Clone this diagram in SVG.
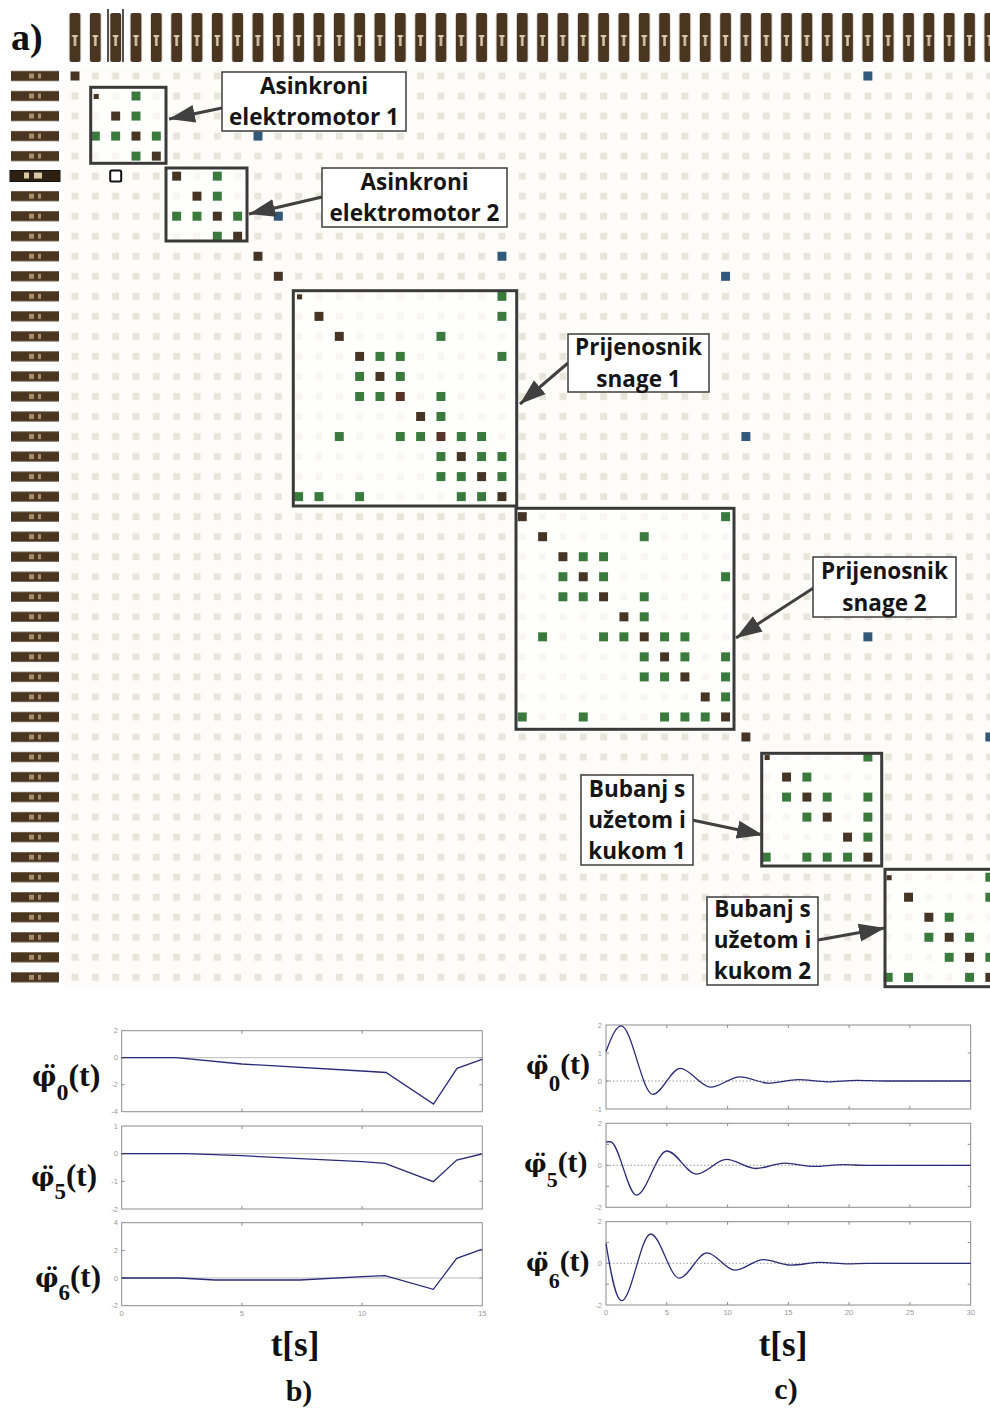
<svg xmlns="http://www.w3.org/2000/svg" xmlns:xlink="http://www.w3.org/1999/xlink" width="990" height="1414" viewBox="0 0 990 1414">
<style>
.cb{fill:#fff;stroke:#3d3d3d;stroke-width:1.5}
.ct{font-family:"Open Sans","Noto Sans",sans-serif;font-weight:700;font-size:22.5px;fill:#151515;text-anchor:middle}
.blk{fill:none;stroke:#3a3a3a;stroke-width:3}
.blkfill{fill:#fff;opacity:0.65}
.arr{stroke:#404040;stroke-width:3;fill:none;marker-end:url(#ah)}
.ax{fill:none;stroke:#8c8c8c;stroke-width:1}
.z{stroke:#a8a8a8;stroke-width:0.8}
.zd{stroke:#8c8c8c;stroke-width:0.9;stroke-dasharray:1.5 2}
.cv{fill:none;stroke:#2b2b7a;stroke-width:1.3}
.tkr{font-family:"Liberation Sans",sans-serif;font-size:7.5px;fill:#9a9a9a;text-anchor:end}
.tkm{font-family:"Liberation Sans",sans-serif;font-size:7.5px;fill:#9a9a9a;text-anchor:middle}
.lab{font-family:"Liberation Serif",serif;font-weight:bold;fill:#111}
.phi{font-family:"DejaVu Serif",serif;font-weight:bold}
</style>
<defs>
<pattern id="cells" patternUnits="userSpaceOnUse" x="64.835" y="65.985" width="20.33" height="20.03">
<rect x="6.665" y="6.515" width="7" height="7" fill="#e8e5dc"/>
</pattern>
<pattern id="hdr" patternUnits="userSpaceOnUse" x="64.835" y="0" width="20.33" height="80">
<rect x="4.665" y="13" width="11" height="49" rx="2" fill="#4a3520"/>
<rect x="8.9" y="35" width="2.5" height="11" fill="#d8c8ac"/>
<rect x="7.4" y="35" width="5.5" height="2" fill="#d8c8ac"/>
</pattern>
<pattern id="rlab" patternUnits="userSpaceOnUse" x="0" y="65.985" width="70" height="20.03">
<rect x="11" y="5" width="48" height="10" fill="#4a3520"/>
<rect x="29" y="7.5" width="5" height="5" fill="#a88e6a"/>
<rect x="38" y="7.5" width="3" height="5" fill="#a88e6a"/>
</pattern>
<rect id="sg" x="-0.22" y="-0.225" width="0.44" height="0.45" fill="#3a7b3d"/>
<rect id="sb" x="-0.22" y="-0.225" width="0.44" height="0.45" fill="#463524"/>
<rect id="sr" x="-0.22" y="-0.225" width="0.44" height="0.45" fill="#5a3327"/>
<rect id="su" x="-0.22" y="-0.225" width="0.44" height="0.45" fill="#33597a"/>
<rect id="ss" x="-0.08" y="-0.1" width="0.25" height="0.25" fill="#463524"/>
<marker id="ah" markerUnits="userSpaceOnUse" markerWidth="26" markerHeight="20" viewBox="0 0 26 20" refX="26" refY="10" orient="auto">
<path d="M0,1 L26,10 L0,19 Z" fill="#404040"/>
</marker>
</defs>

<rect x="0" y="0" width="990" height="1414" fill="#ffffff"/>

<g id="panel-a">
<text class="lab" x="11" y="50" font-size="38">a)</text>
<g id="column-headers">
<rect x="64" y="0" width="926" height="70" fill="url(#hdr)"/>
<path d="M108,9 V62 M123,9 V62" stroke="#1a1a1a" stroke-width="1.5"/>
</g>
<g id="row-headers">
<rect x="0" y="66" width="62" height="921.4" fill="url(#rlab)"/>
<rect x="10" y="170.5" width="50" height="11" fill="#2e2013" stroke="#111" stroke-width="1"/>
<rect x="24" y="172.5" width="5" height="6" fill="#d8c8a8"/>
<rect x="34" y="172.5" width="8" height="6" fill="#d8c8a8"/>
</g>
<g id="grid">
<rect x="64" y="66" width="926" height="921.4" fill="#fdfcf8"/>
<rect x="64" y="66" width="926" height="921.4" fill="url(#cells)"/>
</g>
<g id="block-fills">
<rect class="blkfill" x="90.7" y="87.3" width="75.3" height="76"/>
<rect class="blkfill" x="166" y="168" width="81" height="73"/>
<rect class="blkfill" x="293.3" y="290.7" width="223.4" height="215.3"/>
<rect class="blkfill" x="516" y="508.3" width="218" height="221"/>
<rect class="blkfill" x="761.7" y="753.3" width="120" height="112.7"/>
<rect class="blkfill" x="885" y="869.3" width="110" height="117.4"/>
</g>
<g id="entries" transform="translate(75,76) scale(20.33,20.03)">
<use href="#sb" x="0" y="0"/><use href="#su" x="39" y="0"/>
<use href="#ss" x="1" y="1"/><use href="#sg" x="3" y="1"/>
<use href="#sb" x="2" y="2"/><use href="#sg" x="3" y="2"/>
<use href="#sg" x="1" y="3"/><use href="#sg" x="2" y="3"/><use href="#sb" x="3" y="3"/><use href="#sg" x="4" y="3"/><use href="#su" x="9" y="3"/>
<use href="#sg" x="3" y="4"/><use href="#sb" x="4" y="4"/>
<use href="#sb" x="5" y="5"/><use href="#sg" x="7" y="5"/>
<use href="#sb" x="6" y="6"/><use href="#sg" x="7" y="6"/>
<use href="#sg" x="5" y="7"/><use href="#sg" x="6" y="7"/><use href="#sb" x="7" y="7"/><use href="#sg" x="8" y="7"/><use href="#su" x="10" y="7"/>
<use href="#sg" x="7" y="8"/><use href="#sb" x="8" y="8"/>
<use href="#sb" x="9" y="9"/><use href="#su" x="21" y="9"/>
<use href="#sb" x="10" y="10"/><use href="#su" x="32" y="10"/>
<use href="#ss" x="11" y="11"/><use href="#sg" x="21" y="11"/>
<use href="#sb" x="12" y="12"/><use href="#sg" x="21" y="12"/>
<use href="#sb" x="13" y="13"/><use href="#sg" x="18" y="13"/>
<use href="#sb" x="14" y="14"/><use href="#sg" x="15" y="14"/><use href="#sg" x="16" y="14"/><use href="#sg" x="21" y="14"/>
<use href="#sg" x="14" y="15"/><use href="#sb" x="15" y="15"/><use href="#sg" x="16" y="15"/>
<use href="#sg" x="14" y="16"/><use href="#sg" x="15" y="16"/><use href="#sr" x="16" y="16"/><use href="#sg" x="18" y="16"/>
<use href="#sb" x="17" y="17"/><use href="#sg" x="18" y="17"/>
<use href="#sg" x="13" y="18"/><use href="#sg" x="16" y="18"/><use href="#sg" x="17" y="18"/><use href="#sr" x="18" y="18"/><use href="#sg" x="19" y="18"/><use href="#sg" x="20" y="18"/><use href="#su" x="33" y="18"/>
<use href="#sg" x="18" y="19"/><use href="#sb" x="19" y="19"/><use href="#sg" x="20" y="19"/><use href="#sg" x="21" y="19"/>
<use href="#sg" x="18" y="20"/><use href="#sg" x="19" y="20"/><use href="#sb" x="20" y="20"/><use href="#sg" x="21" y="20"/>
<use href="#sg" x="11" y="21"/><use href="#sg" x="12" y="21"/><use href="#sg" x="14" y="21"/><use href="#sg" x="19" y="21"/><use href="#sg" x="20" y="21"/><use href="#sb" x="21" y="21"/>
<use href="#sb" x="22" y="22"/><use href="#sg" x="32" y="22"/>
<use href="#sb" x="23" y="23"/><use href="#sg" x="28" y="23"/>
<use href="#sb" x="24" y="24"/><use href="#sg" x="25" y="24"/><use href="#sg" x="26" y="24"/>
<use href="#sg" x="24" y="25"/><use href="#sb" x="25" y="25"/><use href="#sg" x="26" y="25"/><use href="#sg" x="32" y="25"/>
<use href="#sg" x="24" y="26"/><use href="#sg" x="25" y="26"/><use href="#sb" x="26" y="26"/><use href="#sg" x="28" y="26"/>
<use href="#sb" x="27" y="27"/><use href="#sg" x="28" y="27"/>
<use href="#sg" x="23" y="28"/><use href="#sg" x="26" y="28"/><use href="#sg" x="27" y="28"/><use href="#sb" x="28" y="28"/><use href="#sg" x="29" y="28"/><use href="#sg" x="30" y="28"/><use href="#su" x="39" y="28"/>
<use href="#sg" x="28" y="29"/><use href="#sb" x="29" y="29"/><use href="#sg" x="30" y="29"/><use href="#sg" x="32" y="29"/>
<use href="#sg" x="28" y="30"/><use href="#sg" x="29" y="30"/><use href="#sb" x="30" y="30"/><use href="#sg" x="32" y="30"/>
<use href="#sb" x="31" y="31"/><use href="#sg" x="32" y="31"/>
<use href="#sg" x="22" y="32"/><use href="#sg" x="25" y="32"/><use href="#sg" x="29" y="32"/><use href="#sg" x="30" y="32"/><use href="#sg" x="31" y="32"/><use href="#sb" x="32" y="32"/>
<use href="#sb" x="33" y="33"/><use href="#su" x="45" y="33"/>
<use href="#ss" x="34" y="34"/><use href="#sg" x="39" y="34"/>
<use href="#sb" x="35" y="35"/><use href="#sg" x="36" y="35"/>
<use href="#sg" x="35" y="36"/><use href="#sb" x="36" y="36"/><use href="#sg" x="37" y="36"/><use href="#sg" x="39" y="36"/>
<use href="#sg" x="36" y="37"/><use href="#sb" x="37" y="37"/><use href="#sg" x="39" y="37"/>
<use href="#sb" x="38" y="38"/><use href="#sg" x="39" y="38"/>
<use href="#sg" x="34" y="39"/><use href="#sg" x="36" y="39"/><use href="#sg" x="37" y="39"/><use href="#sg" x="38" y="39"/><use href="#sb" x="39" y="39"/>
<use href="#ss" x="40" y="40"/><use href="#sg" x="45" y="40"/>
<use href="#sb" x="41" y="41"/><use href="#sg" x="45" y="41"/>
<use href="#sb" x="42" y="42"/><use href="#sg" x="43" y="42"/>
<use href="#sg" x="42" y="43"/><use href="#sb" x="43" y="43"/><use href="#sg" x="44" y="43"/>
<use href="#sg" x="43" y="44"/><use href="#sb" x="44" y="44"/><use href="#sg" x="45" y="44"/>
<use href="#sg" x="40" y="45"/><use href="#sg" x="41" y="45"/><use href="#sg" x="44" y="45"/><use href="#sb" x="45" y="45"/>
</g>
<rect id="selected-cell" x="110.2" y="170.6" width="11" height="11" rx="1.5" fill="#fff" stroke="#111" stroke-width="2"/>

<g id="block-asinkroni-1"><rect class="blk" x="90.7" y="87.3" width="75.3" height="76"/></g>
<g id="block-asinkroni-2"><rect class="blk" x="166" y="168" width="81" height="73"/></g>
<g id="block-prijenosnik-1"><rect class="blk" x="293.3" y="290.7" width="223.4" height="215.3"/></g>
<g id="block-prijenosnik-2"><rect class="blk" x="516" y="508.3" width="218" height="221"/></g>
<g id="block-bubanj-1"><rect class="blk" x="761.7" y="753.3" width="120" height="112.7"/></g>
<g id="block-bubanj-2"><rect class="blk" x="885" y="869.3" width="110" height="117.4"/></g>

<g id="connectors">
<line class="arr" x1="222" y1="108" x2="169" y2="119"/>
<line class="arr" x1="322" y1="197" x2="249" y2="214"/>
<line class="arr" x1="568" y1="363" x2="520" y2="404"/>
<line class="arr" x1="815" y1="587" x2="736" y2="638"/>
<line class="arr" x1="692" y1="820" x2="763" y2="835"/>
<line class="arr" x1="818" y1="940" x2="885" y2="928"/>
</g>

<g id="label-asinkroni-1">
<rect class="cb" x="222" y="72" width="184" height="59"/>
<text class="ct" x="314" y="94">Asinkroni</text>
<text class="ct" x="314" y="125">elektromotor 1</text>
</g>
<g id="label-asinkroni-2">
<rect class="cb" x="322" y="168" width="185" height="59"/>
<text class="ct" x="414.5" y="190">Asinkroni</text>
<text class="ct" x="414.5" y="221">elektromotor 2</text>
</g>
<g id="label-prijenosnik-1">
<rect class="cb" x="568" y="334" width="141" height="58"/>
<text class="ct" x="638.5" y="355">Prijenosnik</text>
<text class="ct" x="638.5" y="387">snage 1</text>
</g>
<g id="label-prijenosnik-2">
<rect class="cb" x="813" y="557" width="143" height="60"/>
<text class="ct" x="884.5" y="579">Prijenosnik</text>
<text class="ct" x="884.5" y="611">snage 2</text>
</g>
<g id="label-bubanj-1">
<rect class="cb" x="581" y="775" width="112" height="90"/>
<text class="ct" x="637" y="797">Bubanj s</text>
<text class="ct" x="637" y="828">užetom i</text>
<text class="ct" x="637" y="859">kukom 1</text>
</g>
<g id="label-bubanj-2">
<rect class="cb" x="707" y="897" width="111" height="88"/>
<text class="ct" x="762.5" y="917">Bubanj s</text>
<text class="ct" x="762.5" y="948">užetom i</text>
<text class="ct" x="762.5" y="979">kukom 2</text>
</g>
</g>

<g id="panel-b">
<rect class="ax" x="121.7" y="1030.7" width="360.6" height="81"/>
<rect class="ax" x="121.7" y="1126" width="360.6" height="83"/>
<rect class="ax" x="121.7" y="1222.7" width="360.6" height="83"/>
<path class="ax" d="M241.9,1030.7v3M241.9,1111.7v-3M362.1,1030.7v3M362.1,1111.7v-3M121.7,1057.7h3M482.3,1057.7h-3M121.7,1084.7h3M482.3,1084.7h-3
M241.9,1126v3M241.9,1209v-3M362.1,1126v3M362.1,1209v-3M121.7,1153.7h3M482.3,1153.7h-3M121.7,1181.3h3M482.3,1181.3h-3
M241.9,1222.7v3M241.9,1305.7v-3M362.1,1222.7v3M362.1,1305.7v-3M121.7,1250.4h3M482.3,1250.4h-3M121.7,1278h3M482.3,1278h-3"/>
<path class="z" d="M121.7,1057.7H482.3M121.7,1153.7H482.3M121.7,1278H482.3"/>
<path class="cv" d="M121.7,1057.7 L176,1057.7 L241.7,1064 L362,1071 L386,1072.5 L433.5,1104 L457,1068.3 L482,1059.3"/>
<path class="cv" d="M121.7,1153.7 L186,1153.7 L241.7,1155.7 L362,1161.7 L385,1163.3 L433.3,1181.7 L456.7,1160 L481.7,1154"/>
<path class="cv" d="M121.7,1278 L180,1278 L215,1280 L300,1280 L362,1276.7 L385,1275.7 L433.3,1289.3 L456.7,1258.3 L481.7,1249.3"/>
<text class="tkr" x="118" y="1033">2</text><text class="tkr" x="118" y="1060">0</text><text class="tkr" x="118" y="1087">-2</text><text class="tkr" x="118" y="1114">-4</text>
<text class="tkr" x="118" y="1128.5">1</text><text class="tkr" x="118" y="1156">0</text><text class="tkr" x="118" y="1183.5">-1</text><text class="tkr" x="118" y="1211.5">-2</text>
<text class="tkr" x="118" y="1225">4</text><text class="tkr" x="118" y="1253">2</text><text class="tkr" x="118" y="1280.5">0</text><text class="tkr" x="118" y="1308">-2</text>
<text class="tkm" x="121.7" y="1316">0</text><text class="tkm" x="241.9" y="1316">5</text><text class="tkm" x="362.1" y="1316">10</text><text class="tkm" x="482.3" y="1316">15</text>
<text class="lab" x="32" y="1085.5" font-size="32"><tspan class="phi" font-size="27">φ̈</tspan><tspan font-size="24" dy="14.5">0</tspan><tspan dy="-14.5">(t)</tspan></text>
<text class="lab" x="31" y="1185.5" font-size="31"><tspan class="phi" font-size="26">φ̈</tspan><tspan font-size="23" dy="13">5</tspan><tspan dy="-13">(t)</tspan></text>
<text class="lab" x="35" y="1287" font-size="31"><tspan class="phi" font-size="26">φ̈</tspan><tspan font-size="23" dy="13">6</tspan><tspan dy="-13">(t)</tspan></text>
<text class="lab" x="295" y="1356" font-size="35" text-anchor="middle">t[s]</text>
<text class="lab" x="299" y="1401" font-size="30" text-anchor="middle">b)</text>
</g>

<g id="panel-c">
<rect class="ax" x="606" y="1025" width="364.7" height="84"/>
<rect class="ax" x="606" y="1123.3" width="364.7" height="84"/>
<rect class="ax" x="606" y="1221.7" width="364.7" height="83.3"/>
<path class="ax" d="M666.8,1025v3M727.6,1025v3M788.3,1025v3M849.1,1025v3M909.9,1025v3M666.8,1109v-3M727.6,1109v-3M788.3,1109v-3M849.1,1109v-3M909.9,1109v-3M606,1053h3M970.7,1053h-3M606,1081h3M970.7,1081h-3
M666.8,1123.3v3M727.6,1123.3v3M788.3,1123.3v3M849.1,1123.3v3M909.9,1123.3v3M666.8,1207.3v-3M727.6,1207.3v-3M788.3,1207.3v-3M849.1,1207.3v-3M909.9,1207.3v-3M606,1144.3h3M970.7,1144.3h-3M606,1165.3h3M970.7,1165.3h-3M606,1186.3h3M970.7,1186.3h-3
M666.8,1221.7v3M727.6,1221.7v3M788.3,1221.7v3M849.1,1221.7v3M909.9,1221.7v3M666.8,1305v-3M727.6,1305v-3M788.3,1305v-3M849.1,1305v-3M909.9,1305v-3M606,1242.5h3M970.7,1242.5h-3M606,1263.3h3M970.7,1263.3h-3M606,1284.2h3M970.7,1284.2h-3"/>
<path class="zd" d="M606,1081H970.7M606,1165.3H970.7M606,1263.3H970.7"/>
<path class="cv" d="M606,1051.6 C610.3,1040 615.5,1025.8 621.2,1025.8 C631.7,1025.8 642.3,1094.4 652.8,1094.4 C661.9,1094.4 671.1,1068.4 680.2,1068.4 C690.3,1068.4 700.5,1087.2 710.6,1087.2 C720.3,1087.2 730.1,1076.8 739.8,1076.8 C749.5,1076.8 759.2,1083.2 768.9,1083.2 C778.6,1083.2 788.4,1079.6 798.1,1079.6 C807.8,1079.6 817.6,1081.8 827.3,1081.8 C837,1081.8 846.8,1080.4 856.5,1080.4 C866.2,1080.4 876,1081 885.7,1081 L970.7,1081"/>
<path class="cv" d="M606,1141.8 L610.3,1141.6 C619,1141.6 627.7,1195.1 636.4,1195.1 C646.5,1195.1 656.7,1151 666.8,1151 C676.7,1151 686.7,1174.1 696.6,1174.1 C706.5,1174.1 716.5,1159.4 726.4,1159.4 C736.1,1159.4 745.9,1168.5 755.6,1168.5 C765.3,1168.5 775.1,1163.2 784.8,1163.2 C794.5,1163.2 804.3,1166.4 814,1166.4 C823.7,1166.4 833.4,1164.7 843.1,1164.7 C851.2,1164.7 859.3,1165.3 867.4,1165.3 L970.7,1165.3"/>
<path class="cv" d="M606,1243.3 C609.5,1265 615,1300.7 621.7,1300.7 C631.3,1300.7 641,1234 650.6,1234 C660.2,1234 669.7,1278.1 679.3,1278.1 C688.5,1278.1 697.7,1252.9 706.9,1252.9 C716.2,1252.9 725.6,1270.2 734.9,1270.2 C744.4,1270.2 754,1259.6 763.5,1259.6 C772.6,1259.6 781.7,1265.2 790.8,1265.2 C800.5,1265.2 810.3,1262.3 820,1262.3 C829.3,1262.3 838.7,1263.9 848,1263.9 C854.5,1263.9 860.9,1263.3 867.4,1263.3 L970.7,1263.3"/>
<text class="tkr" x="602" y="1027.5">2</text><text class="tkr" x="602" y="1055.5">1</text><text class="tkr" x="602" y="1083.5">0</text><text class="tkr" x="602" y="1111.5">-1</text>
<text class="tkr" x="602" y="1126">2</text><text class="tkr" x="602" y="1168">0</text><text class="tkr" x="602" y="1210">-2</text>
<text class="tkr" x="602" y="1224">2</text><text class="tkr" x="602" y="1266">0</text><text class="tkr" x="602" y="1307.5">-2</text>
<text class="tkm" x="606" y="1315">0</text><text class="tkm" x="666.8" y="1315">5</text><text class="tkm" x="727.6" y="1315">10</text><text class="tkm" x="788.3" y="1315">15</text><text class="tkm" x="849.1" y="1315">20</text><text class="tkm" x="909.9" y="1315">25</text><text class="tkm" x="970.7" y="1315">30</text>
<text class="lab" x="526" y="1074" font-size="30"><tspan class="phi" font-size="25">φ̈</tspan><tspan font-size="23" dy="17">0</tspan><tspan dy="-17">(t)</tspan></text>
<text class="lab" x="524" y="1172" font-size="30"><tspan class="phi" font-size="25">φ̈</tspan><tspan font-size="22" dy="15">5</tspan><tspan dy="-15">(t)</tspan></text>
<text class="lab" x="526" y="1271" font-size="30"><tspan class="phi" font-size="25">φ̈</tspan><tspan font-size="22" dy="17">6</tspan><tspan dy="-17">(t)</tspan></text>
<text class="lab" x="783" y="1356" font-size="35" text-anchor="middle">t[s]</text>
<text class="lab" x="786" y="1399" font-size="30" text-anchor="middle">c)</text>
</g>
</svg>
